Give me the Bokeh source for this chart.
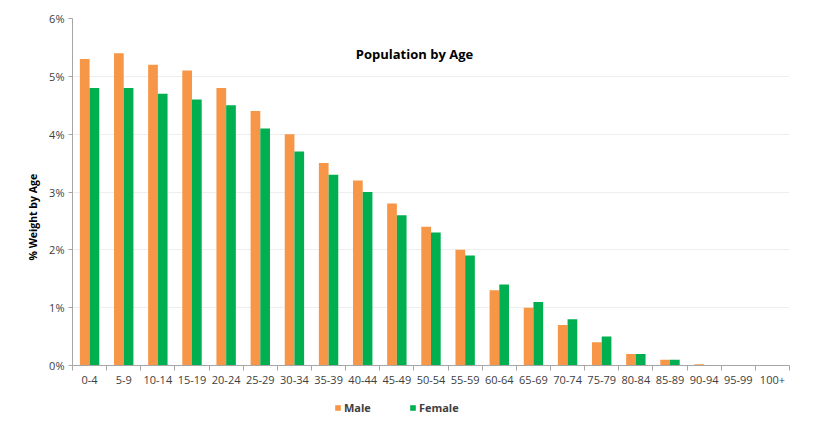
import numpy as np
from bokeh.plotting import figure
from bokeh.layouts import column
from bokeh.models import (ColumnDataSource, Range1d, FixedTicker, Legend, LegendItem,
                          Label, PrintfTickFormatter, Title)
from bokeh.transform import dodge
from bokeh.embed import file_html
from bokeh.resources import INLINE

age_groups = ["0-4", "5-9", "10-14", "15-19", "20-24", "25-29", "30-34", "35-39",
              "40-44", "45-49", "50-54", "55-59", "60-64", "65-69", "70-74", "75-79",
              "80-84", "85-89", "90-94", "95-99", "100+"]
male = [5.3, 5.4, 5.2, 5.1, 4.8, 4.4, 4.0, 3.5, 3.2, 2.8, 2.4, 2.0, 1.3, 1.0, 0.7,
        0.4, 0.2, 0.1, 0.02, 0.0, 0.0]
female = [4.8, 4.8, 4.7, 4.6, 4.5, 4.1, 3.7, 3.3, 3.0, 2.6, 2.3, 1.9, 1.4, 1.1, 0.8,
          0.5, 0.2, 0.1, 0.01, 0.0, 0.0]
y_ticks = [0, 1, 2, 3, 4, 5, 6]
series_names = ["Male", "Female"]
series_colors = ["#F79646", "#00B050"]

FONT = "Open Sans"
n = len(age_groups)
pos = np.arange(n) + 0.5
src = ColumnDataSource(dict(pos=pos, male=male, female=female))

p = figure(width=820, height=392, output_backend="svg", toolbar_location=None,
           x_range=Range1d(0, n), y_range=Range1d(0, 6),
           min_border_left=72, min_border_right=31, min_border_top=18, min_border_bottom=27)
p.outline_line_color = None
p.background_fill_color = "white"
p.border_fill_color = "white"

p.vbar(x=dodge("pos", -0.142, range=p.x_range), top="male", width=0.284,
       source=src, fill_color=series_colors[0], line_color=None)
p.vbar(x=dodge("pos", 0.142, range=p.x_range), top="female", width=0.284,
       source=src, fill_color=series_colors[1], line_color=None)

# x axis: labels at centres, ticks at category boundaries
xa = p.xaxis[0]
xa.ticker = FixedTicker(ticks=list(pos), minor_ticks=list(range(n + 1)))
xa.major_label_overrides = {float(v): lab for v, lab in zip(pos, age_groups)}
xa.major_tick_line_color = None
xa.major_tick_out = 5
xa.major_tick_in = 0
xa.minor_tick_line_color = "#a6a6a6"
xa.minor_tick_out = 5
xa.minor_tick_in = 0
xa.major_label_standoff = 5
xa.axis_line_color = "#a6a6a6"
xa.major_label_text_font = FONT
xa.major_label_text_font_size = "11px"
xa.major_label_text_color = "#404040"

ya = p.yaxis[0]
ya.ticker = FixedTicker(ticks=y_ticks)
ya.formatter = PrintfTickFormatter(format="%d%%")
ya.axis_line_color = "#a6a6a6"
ya.major_tick_line_color = "#a6a6a6"
ya.major_tick_out = 4
ya.major_tick_in = 0
ya.minor_tick_line_color = None
ya.major_label_standoff = 4
ya.major_label_text_font = FONT
ya.major_label_text_font_size = "11px"
ya.major_label_text_color = "#404040"

# y-axis title, placed lower than the frame centre as in the reference
ytitle = Title(text="% Weight by Age", align="left", offset=105, text_font=FONT,
               text_font_size="10.5px", text_font_style="bold", text_color="#000000",
               standoff=14)
p.add_layout(ytitle, "left")

p.xgrid.grid_line_color = None
p.ygrid.grid_line_color = "#eeeeee"
p.ygrid.ticker = FixedTicker(ticks=y_ticks)

title = Label(x=342, y=312, x_units="screen", y_units="screen", text="Population by Age",
              text_font=FONT, text_font_size="13px", text_font_style="bold",
              text_align="center", text_baseline="middle", text_color="#000000")
p.add_layout(title)

# legend strip below the chart (its frame is aligned with the chart's frame)
pl = figure(width=820, height=41, output_backend="svg", toolbar_location=None,
            x_range=Range1d(0, 1), y_range=Range1d(0, 1),
            x_axis_location=None, y_axis_location=None,
            min_border_left=0, min_border_right=0, min_border_top=0, min_border_bottom=0)
pl.outline_line_color = None
pl.xgrid.grid_line_color = None
pl.ygrid.grid_line_color = None
items = []
for name, col in zip(series_names, series_colors):
    # zero-height placeholder so the legend can draw its swatch
    r = pl.vbar(x=[0.5], top=[0], bottom=[0], width=0.0, fill_color=col, line_color=None)
    items.append(LegendItem(label=name, renderers=[r]))
legend = Legend(items=items, orientation="horizontal", location=(262, 18),
                glyph_width=7, glyph_height=7, label_text_font=FONT,
                label_text_font_size="11px", label_text_font_style="bold",
                label_text_color="#404040", spacing=38, padding=0, margin=0,
                border_line_color=None, background_fill_alpha=0, label_standoff=3,
                label_height=14)
pl.add_layout(legend)

layout = column(p, pl, spacing=0)
open("out.html", "w").write(file_html(layout, INLINE))
